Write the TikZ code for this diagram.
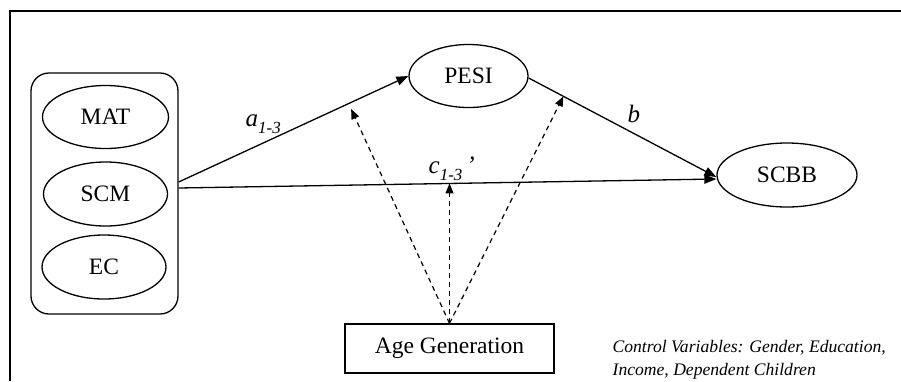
\documentclass[tikz,border=0pt]{standalone}
\usepackage{fontspec}
\setmainfont{Liberation Serif}
\usetikzlibrary{arrows.meta, shapes.geometric, positioning}

\newcommand{\subidx}[1]{\lower7pt\hbox{\fontsize{17}{17}\selectfont\itshape #1}}

\begin{document}
\begin{tikzpicture}[x=1pt, y=-1pt, line width=1.3pt,
    var/.style={draw, ellipse, inner sep=0pt, font=\fontsize{23.5}{28}\selectfont},
    effect/.style={-{Triangle[length=12pt,width=9pt]}},
    modline/.style={line width=1.2pt, dash pattern=on 5pt off 4pt, -{Triangle[length=10pt,width=8pt]}},
    lbl/.style={anchor=base west, inner sep=0pt, font=\fontsize{25}{28}\selectfont\itshape}]
    \useasboundingbox (0,0) rectangle (901,381);
    \draw[line width=1.2pt] (10,381) -- (10,11) -- (901,11);
    \node[draw, rounded corners=18pt, minimum width=147pt, minimum height=241pt] (grp) at (104.5,193.5) {};
    \node[var, minimum width=126pt, minimum height=63pt] (mat) at (105.5,117) {MAT};
    \node[var, minimum width=124pt, minimum height=64pt] (scm) at (105.5,194) {SCM};
    \node[var, minimum width=124pt, minimum height=64pt] (ec) at (104,267) {EC};
    \node[var, minimum width=119pt, minimum height=63pt] (pesi) at (468.5,76) {PESI};
    \node[var, minimum width=140pt, minimum height=64pt] (scbb) at (787,175) {SCBB};
    \node[draw, minimum width=209pt, minimum height=49pt, font=\fontsize{23.5}{28}\selectfont] (age) at (449.5,348.5) {Age Generation};
    \draw[effect] ([yshift=11.5pt]grp.east) -- (pesi.west) coordinate[pos=0.74] (ma);
    \draw[effect] ([yshift=5.5pt]grp.east) -- ([yshift=-4pt]scbb.west) coordinate[pos=0.508] (mc);
    \draw[effect] ([yshift=-2pt]pesi.east) -- ([yshift=-2pt]scbb.west) coordinate[pos=0.185] (mb);
    \draw[modline, shorten >=6pt] (age.north) -- (ma);
    \draw[modline] (age.north) -- (age.north |- mc);
    \draw[modline] (age.north) -- (mb);
    \node[lbl] (la) at (245,126) {a\subidx{1-3}};
    \node[lbl] (lc) at (428,173) {c\subidx{1-3}\kern4pt’};
    \node[lbl] (lb) at (627,122) {b};
    \node[anchor=north west, inner sep=0pt, align=left, font=\fontsize{17.6}{23}\selectfont\itshape] (ctrl) at (612,340) {Control Variables: Gender, Education,\\Income, Dependent Children};
\end{tikzpicture}
\end{document}
